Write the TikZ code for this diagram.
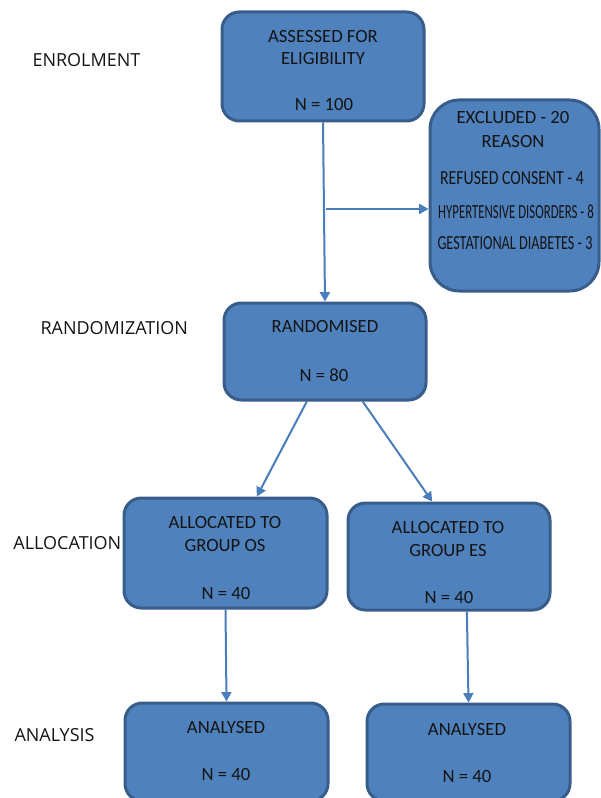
\documentclass[tikz,border=0pt]{standalone}
\usepackage{fontspec}
\usepackage{graphicx}
\setmainfont{Carlito}
\newfontfamily\sidefont{Open Sans}
\usetikzlibrary{arrows.meta}

\definecolor{boxfill}{HTML}{4F81BD}
\definecolor{boxline}{HTML}{385D8A}
\definecolor{arrline}{HTML}{4A7EBB}
\definecolor{txtcol}{HTML}{141414}

\newcommand{\squeeze}[2]{\scalebox{#1}[1]{#2}}

\tikzset{every picture/.style={line width=0.75pt}}
\tikzset{
	stagebox/.style={draw=boxline, fill=boxfill, line width=2.25pt, rounded corners=13pt, inner sep=0pt},
	boxtext/.style={inner sep=0.75pt, text=txtcol, font=\fontsize{14}{16}\selectfont},
	reasontext/.style={inner sep=0.75pt, text=txtcol, font=\fontsize{15}{17}\selectfont},
	sidetext/.style={anchor=west, inner sep=0.75pt, text=txtcol, font=\sidefont\fontsize{13.5}{16}\selectfont},
	conn/.style={draw=arrline, line width=1.5pt, -{Triangle[width=7.5pt,length=7pt]}}
}

\begin{document}
\begin{tikzpicture}[x=0.75pt,y=0.75pt,yscale=-1,xscale=1]
		\useasboundingbox (0,0) rectangle (600,798);
		
		%Boxes
		\node (assess) at (323,66.5) [stagebox, minimum width=151.5pt, minimum height=81.75pt] {};
		\node (excl) at (514.5,195.5) [stagebox, rounded corners=22pt, minimum width=126.75pt, minimum height=143.25pt] {};
		\node (rand) at (325,351.5) [stagebox, minimum width=151.5pt, minimum height=72.75pt] {};
		\node (grpos) at (225.5,553) [stagebox, minimum width=152.25pt, minimum height=82.5pt] {};
		\node (grpes) at (449,556.5) [stagebox, minimum width=151.5pt, minimum height=80.25pt] {};
		\node (analos) at (226.5,752) [stagebox, minimum width=152.25pt, minimum height=73.5pt] {};
		\node (anales) at (468.5,752.5) [stagebox, minimum width=152.25pt, minimum height=72.75pt] {};
		
		%Connectors
		\coordinate (split) at (326,209);
		\draw [conn] (assess.south) -- (rand.north);
		\draw [conn] (split) -- (split -| excl.west);
		\draw [conn] (rand.250) -- (grpos.61);
		\draw [conn] (rand.-53) -- (grpes.107);
		\draw [conn] (grpos.south) -- (analos.north);
		\draw [conn] (grpes.-72) -- (anales.north);
		
		% Text Node
		\node (assessA) at (323,37) [boxtext] {ASSESSED FOR};
		\node (assessB) at (323,59) [boxtext] {ELIGIBILITY};
		\node (assessN) at (324,105) [boxtext] {N = 100};
		% Text Node
		\node (exclA) at (513,118) [boxtext] {EXCLUDED - 20};
		\node (exclB) at (513,142) [boxtext] {REASON};
		\node (exclC) at (512,178) [reasontext] {\squeeze{0.79}{REFUSED CONSENT - 4}};
		\node (exclD) at (516,212) [reasontext] {\squeeze{0.64}{HYPERTENSIVE DISORDERS - 8}};
		\node (exclE) at (515,243) [reasontext] {\squeeze{0.71}{GESTATIONAL DIABETES - 3}};
		% Text Node
		\node (randA) at (325,327) [boxtext] {RANDOMISED};
		\node (randN) at (324,375) [boxtext] {N = 80};
		% Text Node
		\node (grposA) at (225,523) [boxtext] {ALLOCATED TO};
		\node (grposB) at (225,546) [boxtext] {GROUP OS};
		\node (grposN) at (226,594) [boxtext] {N = 40};
		% Text Node
		\node (grpesA) at (448,528) [boxtext] {ALLOCATED TO};
		\node (grpesB) at (448,551) [boxtext] {GROUP ES};
		\node (grpesN) at (449,598) [boxtext] {N = 40};
		% Text Node
		\node (analosA) at (226,727) [boxtext] {ANALYSED};
		\node (analosN) at (226,774) [boxtext] {N = 40};
		\node (analesA) at (467,729) [boxtext] {ANALYSED};
		\node (analesN) at (467,776) [boxtext] {N = 40};
		
		% Stage labels
		\node (enrol) at (31,60) [sidetext] {ENROLMENT};
		\node (randlab) at (39,328) [sidetext] {RANDOMIZATION};
		\node (alloc) at (12,543) [sidetext] {ALLOCATION};
		\node (analys) at (13,735) [sidetext] {ANALYSIS};
\end{tikzpicture}
\end{document}
